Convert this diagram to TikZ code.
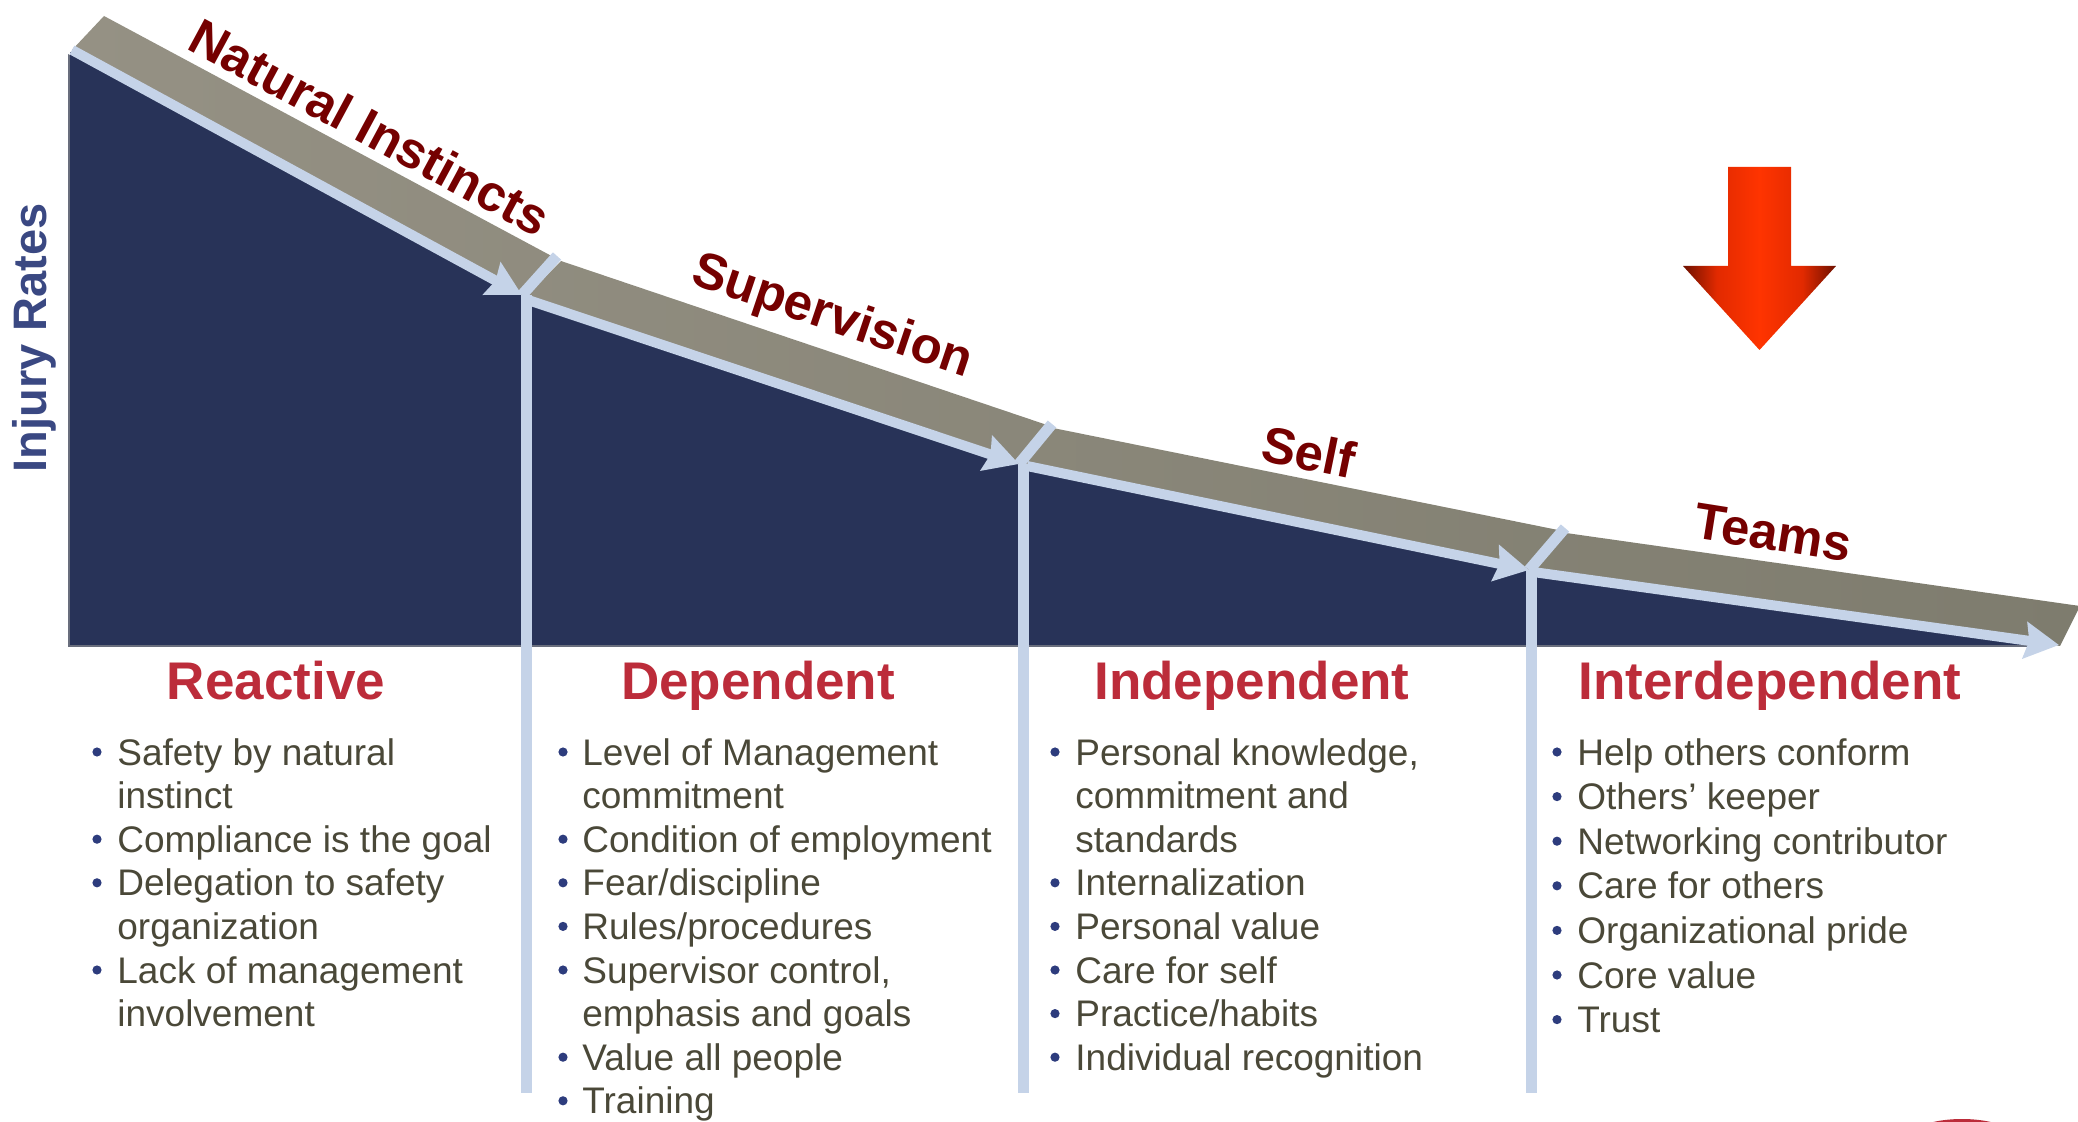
\documentclass[tikz,border=0pt]{standalone}
\usepackage{fontspec}
\setmainfont{Liberation Sans}
\usetikzlibrary{arrows.meta}
\definecolor{navy}{RGB}{40,51,88}
\definecolor{bandL}{RGB}{149,145,132}
\definecolor{bandR}{RGB}{126,124,110}
\definecolor{lineblue}{RGB}{197,211,232}
\definecolor{headred}{RGB}{188,44,58}
\definecolor{itemtext}{RGB}{74,72,56}
\definecolor{labelred}{RGB}{117,0,0}
\definecolor{axisblue}{RGB}{58,72,130}
\definecolor{bulletblue}{RGB}{45,60,125}
\definecolor{shadowgray}{RGB}{105,110,125}
\definecolor{arrdark}{RGB}{110,16,0}
\definecolor{arrmid}{RGB}{226,42,0}
\definecolor{arrbright}{RGB}{255,52,0}
\pgfdeclarehorizontalshading{redarrow}{100bp}{color(0bp)=(arrdark); color(25bp)=(arrdark); color(36bp)=(arrmid); color(50bp)=(arrbright); color(64bp)=(arrmid); color(75bp)=(arrdark); color(100bp)=(arrdark)}
\tikzset{
  bluearrow/.style={draw=lineblue, line width=5pt, -{Stealth[length=17pt,width=18pt,inset=2pt]}},
  blueline/.style={draw=lineblue, line width=5.5pt},
  headtxt/.style={font=\fontsize{26.5}{30}\selectfont\bfseries, text=headred, anchor=base, inner sep=0pt},
  itemtxt/.style={font=\fontsize{18.5}{22}\selectfont, text=itemtext, anchor=base west, inner sep=0pt},
  slopelabel/.style={font=\fontsize{25.5}{30}\selectfont\bfseries, text=labelred, inner sep=0pt},
}
\newcommand\itemcol[5]{%
  \foreach \k/\b/\t in {#5} {
    \node[itemtxt] (#1\k) at (#2, 765+\k*#4) {\t};
    \ifnum\b=1 \fill[bulletblue] (#3, 765+\k*#4-13) circle[radius=2.3pt]; \fi
  }%
}
\begin{document}
\begin{tikzpicture}[x=0.5pt,y=-0.5pt]
\useasboundingbox (0,0) rectangle (2078,1122);
\clip (0,0) rectangle (2078,1122);
% key points
\coordinate (s1) at (72,50);
\coordinate (t1) at (522,295);
\coordinate (s2) at (528,300);
\coordinate (t2) at (1019,464);
\coordinate (s3) at (1027,466);
\coordinate (t3) at (1529,570);
\coordinate (s4) at (1533,572);
\coordinate (t4) at (2059,645);
\coordinate (k1) at (557,256);
\coordinate (k2) at (1052,424);
\coordinate (k3) at (1565,528);
\coordinate (v1) at (526,295);
\coordinate (v2) at (1023,464);
\coordinate (v3) at (1531,570);
\coordinate (b1) at (526,1093);
\coordinate (b2) at (1023,1093);
\coordinate (b3) at (1531,1093);
% area
\fill[shadowgray] (68,54) -- (520,299) -- (1019,469) -- (1527,574) -- (2043,647) -- (68,647) -- cycle;
\fill[navy] (70,52) -- (522,295) -- (1021,465) -- (1529,570) -- (2045,645) -- (70,645) -- cycle;
% grey band
\shade[left color=bandL, right color=bandR]
  (104,16) -- (559,260) -- (523,296) -- (72,50) -- cycle
  (561,261) -- (1050,426) -- (1020,465) -- (525,297) -- cycle
  (1053,428) -- (1563,531) -- (1530,571) -- (1023,465) -- cycle
  (1566,533) -- (2080,606) -- (2060,646) -- (1532,571) -- cycle;
% vertical dividers
\draw[blueline] (v1) -- (b1);
\draw[blueline] (v2) -- (b2);
\draw[blueline] (v3) -- (b3);
% ticks
\draw[blueline] (k1) -- (t1);
\draw[blueline] (k2) -- (t2);
\draw[blueline] (k3) -- (t3);
% arrows
\draw[bluearrow] (s1) -- (t1);
\draw[bluearrow] (s2) -- (t2);
\draw[bluearrow] (s3) -- (t3);
\draw[bluearrow] (s4) -- (t4);
% slope labels
\node[slopelabel, rotate=-28.3] (lab1) at (370,127) {Natural Instincts};
\node[slopelabel, rotate=-18.6] (lab2) at (832,318) {Supervision};
\node[slopelabel, rotate=-11.6] (lab3) at (1309,452) {Self};
\node[slopelabel, rotate=-9] (lab4) at (1773,533) {Teams};
% axis label
\node[rotate=90, font=\fontsize{23.5}{28}\selectfont\bfseries, text=axisblue, inner sep=0pt] (yaxis) at (34,338) {Injury Rates};
% red arrow
\shade[shading=redarrow] (1728,167) -- (1791,167) -- (1791,266) -- (1836,266) -- (1759.5,350) -- (1683,266) -- (1728,266) -- cycle;
% headings
\node[headtxt] (h1) at (276,699) {Reactive};
\node[headtxt] (h2) at (758,699) {Dependent};
\node[headtxt] (h3) at (1252,699) {Independent};
\node[headtxt] (h4) at (1770,699) {Interdependent};
% items
\itemcol{ra}{117}{97}{43.6}{0/1/Safety by natural, 1/0/instinct, 2/1/Compliance is the goal, 3/1/Delegation to safety, 4/0/organization, 5/1/Lack of management, 6/0/involvement}
\itemcol{da}{582}{563}{43.6}{0/1/Level of Management, 1/0/commitment, 2/1/Condition of employment, 3/1/{Fear/discipline}, 4/1/{Rules/procedures}, 5/1/{Supervisor control,}, 6/0/emphasis and goals, 7/1/Value all people, 8/1/Training}
\itemcol{ia}{1075}{1055}{43.6}{0/1/{Personal knowledge,}, 1/0/commitment and, 2/0/standards, 3/1/Internalization, 4/1/Personal value, 5/1/Care for self, 6/1/{Practice/habits}, 7/1/Individual recognition}
\itemcol{ta}{1577}{1557}{44.6}{0/1/Help others conform, 1/1/Others’ keeper, 2/1/Networking contributor, 3/1/Care for others, 4/1/Organizational pride, 5/1/Core value, 6/1/Trust}
% red shape at bottom edge
\fill[headred] (1962,1147) ellipse[x radius=32pt, y radius=14pt];
\end{tikzpicture}
\end{document}
